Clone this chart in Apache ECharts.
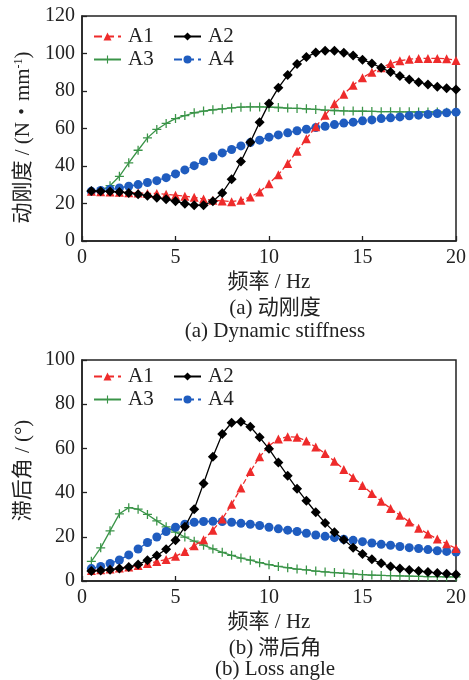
<!DOCTYPE html>
<html><head><meta charset="utf-8">
<script src="https://cdn.jsdelivr.net/npm/echarts@6/dist/echarts.min.js"></script>
<style>html,body{margin:0;padding:0;background:#fff}#c{width:469px;height:680px}</style>
</head><body><div id="c"></div>
<script>
const freq = [0.5,1,1.5,2,2.5,3,3.5,4,4.5,5,5.5,6,6.5,7,7.5,8,8.5,9,9.5,10,10.5,11,11.5,12,12.5,13,13.5,14,14.5,15,15.5,16,16.5,17,17.5,18,18.5,19,19.5,20];
const xTicks = [0,5,10,15,20];
// (a) dynamic stiffness, N/mm
const stiffA1 = [26.5,26.3,26.2,26,25.8,25.6,25.4,25.4,24.9,24.4,23.9,23.3,22.4,21.7,21.4,21,21.7,23.5,26.2,30.6,35.4,41.3,47.9,54.5,60.9,67.1,73.2,78.3,83.1,87.1,90,92.4,94.7,96.1,97,97.4,97.4,97.4,97.2,96.3];
const stiffA2 = [26.7,26.6,26.4,26.2,25.6,25,24.2,23.1,22.3,21.2,19.9,19.1,19.1,21.2,25.6,33,42.4,52.7,63.4,73.4,81.7,88.5,94.4,98.1,100.6,101.5,101.5,100.4,99,96.7,94.7,92.4,90.1,88,86.2,84.7,83.5,82.3,81.5,80.8];
const stiffA3 = [26.5,26.7,29.5,34.5,41.7,48.4,55,59.5,62.7,65.3,66.9,68.4,69.3,70,70.5,71,71.4,71.5,71.5,71.4,71.2,70.9,70.7,70.5,70.2,69.8,69.6,69.4,69.3,69.2,69.1,69,69,68.9,68.9,68.8,68.8,68.8,68.7,68.7];
const stiffA4 = [26.5,27,27.6,28.3,29.2,30.1,31.2,32.2,33.8,35.8,37.9,40.2,42.6,44.9,47,48.8,50.7,52.5,53.8,55.4,56.6,57.7,58.8,59.6,60.5,61.2,62.1,62.9,63.4,64.1,64.6,65.3,65.7,66.2,66.8,67.1,67.5,68,68.4,68.7];
// (b) loss angle, degrees
const lossA1 = [4.8,5.1,5.4,5.9,6.3,7,7.9,8.8,9.7,11.2,13.3,16,18.7,23,28.1,34.7,42.1,49.5,56.2,61.2,64.2,65.3,65.1,63.4,60.6,57.7,54.2,50.5,46.8,43.2,39.6,36.1,32.8,29.8,26.7,23.9,21.3,19,16.9,14.7];
const lossA2 = [4.5,4.8,5.1,5.6,6.3,7.5,9.4,11.5,14.4,18.4,24.5,32.5,44.1,56.2,66.5,71.6,72.1,69.8,65,59.8,53.6,47.6,41.7,36.3,31.1,26.3,22.1,18.7,15.1,12.2,9.8,8,6.6,5.7,5,4.5,4.1,3.6,3.3,2.9];
const lossA3 = [8.9,15,22.7,30.4,33.2,32.5,30.1,27.2,24.5,22.1,19.9,18,16.2,14.5,13,11.6,10.4,9.4,8.3,7.4,6.6,6,5.4,5,4.5,4.1,3.8,3.5,3.2,2.9,2.7,2.5,2.4,2.3,2.2,2.1,2,2,1.9,1.9];
const lossA4 = [5.6,6.6,7.9,9.5,11.8,14.5,17.4,19.9,22.4,24.3,25.7,26.6,26.9,27,26.9,26.6,26.1,25.7,25.1,24.3,23.6,23,22.4,21.6,20.8,20.2,19.6,18.9,18.4,17.8,17.2,16.6,16.2,15.6,15.1,14.7,14.2,13.7,13.4,13.1];
const names = ['A1','A2','A3','A4'];

const FONT = "'Liberation Serif','Times New Roman','Noto Sans CJK SC',serif";
const TXT = '#222';
const colors = ['#ee2b2b','#000000','#3a9448','#1f5cbf'];
const plusPath = 'path://M4.3,0 L5.7,0 L5.7,4.3 L10,4.3 L10,5.7 L5.7,5.7 L5.7,10 L4.3,10 L4.3,5.7 L0,5.7 L0,4.3 L4.3,4.3 Z';
const styles = [
  {symbol:'triangle', symbolSize:9, line:'dashed'},
  {symbol:'diamond', symbolSize:10, line:'solid'},
  {symbol:plusPath, symbolSize:9, line:'solid'},
  {symbol:'circle', symbolSize:9, line:'dashed'}
];
const pair = arr => freq.map((f,i)=>[f,arr[i]]);

function mkSeries(arrs, idx){
  return arrs.map((a,i)=>({
    name:names[i], type:'line', xAxisIndex:idx, yAxisIndex:idx,
    data:pair(a), symbol:styles[i].symbol, symbolSize:styles[i].symbolSize,
    showAllSymbol:true, animation:false,
    itemStyle:{color:colors[i]},
    lineStyle:{color:colors[i], width:1.3, type:styles[i].line},
    z: i===1?4:(i===0?3:2)
  }));
}

const grids = [
  {left:82, right:11, top:16, height:225, show:true, borderColor:'#222', borderWidth:1.5, backgroundColor:'transparent'},
  {left:82, right:11, top:360, height:221, show:true, borderColor:'#222', borderWidth:1.5, backgroundColor:'transparent'}
];
function xAx(idx){
  return {type:'value', gridIndex:idx, min:0, max:20, interval:5,
    name:'频率 / Hz', nameLocation:'middle', nameGap:31,
    nameTextStyle:{fontFamily:FONT, fontSize:21, color:TXT},
    axisLine:{lineStyle:{color:'#222', width:1.5}},
    axisTick:{inside:true, length:5, lineStyle:{color:'#222', width:1.3}},
    axisLabel:{fontFamily:FONT, fontSize:20, color:TXT, margin:7},
    splitLine:{show:false}};
}
function yAx(idx, max, interval, name, pad){
  return {type:'value', gridIndex:idx, min:0, max:max, interval:interval,
    name:name, nameLocation:'middle', nameGap:45,
    nameTextStyle:{fontFamily:FONT, fontSize:21, color:TXT, padding:pad,
      rich:{sup:{fontFamily:FONT, fontSize:12, color:TXT, verticalAlign:'top', padding:[0,0,9,0]}}},
    axisLine:{lineStyle:{color:'#222', width:1.5}},
    axisTick:{inside:true, length:5, lineStyle:{color:'#222', width:1.3}},
    axisLabel:{fontFamily:FONT, fontSize:20, color:TXT, margin:7},
    splitLine:{show:false}};
}
function legends(top1, top2){
  const pos = [[88,top1],[168,top1],[88,top2],[168,top2]];
  return names.map((n,i)=>({data:[n], left:pos[i][0], top:pos[i][1], itemWidth:27, itemHeight:10,
    textStyle:{fontFamily:FONT, fontSize:21, color:TXT, padding:[0,0,0,2]}, selectedMode:false}));
}
const titleStyle = {fontFamily:FONT, fontSize:21, fontWeight:'normal', color:TXT};
const chart = echarts.init(document.getElementById('c'));
chart.setOption({
  animation:false,
  backgroundColor:'#fff',
  grid:grids,
  xAxis:[xAx(0), xAx(1)],
  yAxis:[yAx(0,120,20,'动刚度 / (N・mm{sup|-1})',[0,18,0,0]), yAx(1,100,20,'滞后角 / (°)',[0,0,0,0])],
  legend:[...legends(21,44), ...legends(361,384)],
  title:[
    {text:'(a) 动刚度', left:270, top:293, textAlign:'center', textStyle:titleStyle},
    {text:'(a) Dynamic stiffness', left:270, top:316, textAlign:'center', textStyle:titleStyle},
    {text:'(b) 滞后角', left:270, top:633, textAlign:'center', textStyle:titleStyle},
    {text:'(b) Loss angle', left:270, top:654, textAlign:'center', textStyle:titleStyle}
  ],
  series:[...mkSeries([stiffA1,stiffA2,stiffA3,stiffA4],0), ...mkSeries([lossA1,lossA2,lossA3,lossA4],1)]
});
</script></body></html>
